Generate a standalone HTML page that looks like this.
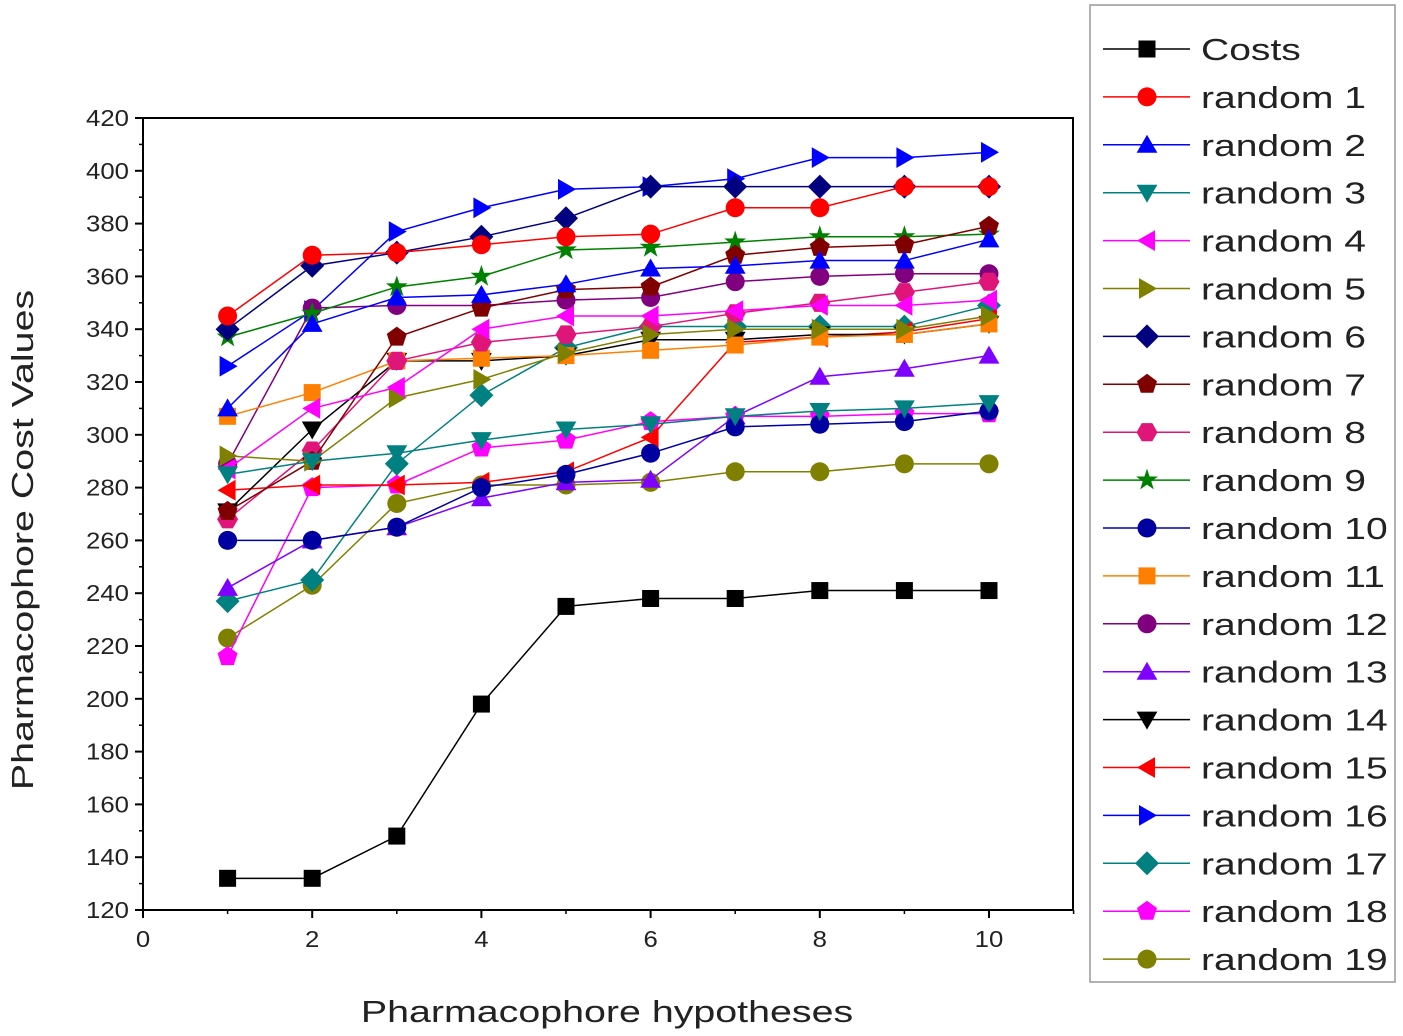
<!DOCTYPE html>
<html><head><meta charset="utf-8"><style>
body{margin:0;background:#fff;}
svg{display:block;font-family:"Liberation Sans",sans-serif;}
</style></head><body>
<svg id="chart" width="1403" height="1036"></svg>
<script>
const xValues=[1,2,3,4,5,6,7,8,9,10];
const xTicks=[0,2,4,6,8,10];
const yTicks=[120,140,160,180,200,220,240,260,280,300,320,340,360,380,400,420];
const seriesNames=["Costs","random 1","random 2","random 3","random 4","random 5","random 6","random 7","random 8","random 9","random 10","random 11","random 12","random 13","random 14","random 15","random 16","random 17","random 18","random 19"];
const costs=[132,132,148,198,235,238,238,241,241,241];
const r1=[345,368,369,372,375,376,386,386,394,394];
const r2=[310,342,352,353,357,363,364,366,366,374];
const r3=[285,290,293,298,302,304,307,309,310,312];
const r4=[287,310,318,340,345,345,347,349,349,351];
const r5=[292,290,314,321,331,338,340,340,340,345];
const r6=[340,364,369,375,382,394,394,394,394,394];
const r7=[271,290,337,348,355,356,368,371,372,379];
const r8=[268,294,328,335,338,341,346,350,354,358];
const r9=[337,346,356,360,370,371,373,375,375,376];
const r10=[260,260,265,280,285,293,303,304,305,309];
const r11=[307,316,328,329,330,332,334,337,338,342];
const r12=[289,348,349,349,351,352,358,360,361,361];
const r13=[242,260,265,276,282,283,307,322,325,330];
const r14=[271,302,328,328,330,336,336,338,338,342];
const r15=[279,281,281,282,286,299,335,337,339,344];
const r16=[326,347,377,386,393,394,397,405,405,407];
const r17=[237,245,289,315,333,341,341,341,341,349];
const r18=[216,280,281,295,298,305,307,307,308,308];
const r19=[223,243,274,281,281,282,286,286,289,289];
const allSeries=[costs,r1,r2,r3,r4,r5,r6,r7,r8,r9,r10,r11,r12,r13,r14,r15,r16,r17,r18,r19];
const colors=["#000","#f00","#00f","#008080","#f0f","#808000","#000080","#800000","#e0157a","#008000","#0000a0","#ff8000","#800080","#8000ff","#000","#f00","#00f","#008080","#f0f","#808000"];
const shapes=["square","circle","up","down","left","right","diamond","pentagon","hexagon","star","ball","square","circle","up","down","left","right","diamond","pentagon","octagon"];
const NS="http://www.w3.org/2000/svg";
const svg=document.getElementById('chart');
const X0=143,X1=1073,Y0=118,Y1=910;
const xs=v=>X0+(v-0)*(989-143)/10;
const ys=v=>Y1-(v-120)*(Y1-Y0)/300;
function el(t,a,p){const e=document.createElementNS(NS,t);for(const k in a)e.setAttribute(k,a[k]);(p||svg).appendChild(e);return e;}
function poly(n,r,rot,cx,cy){let p=[];for(let i=0;i<n;i++){const a=rot+i*2*Math.PI/n;p.push((cx+r*Math.cos(a)).toFixed(1)+","+(cy+r*Math.sin(a)).toFixed(1));}return p.join(" ");}
function marker(g,s,cx,cy,c){
 if(s==="square")return el('rect',{x:cx-8.5,y:cy-8.5,width:17,height:17,fill:c},g);
 if(s==="circle"||s==="ball"||s==="octagon")return el('circle',{cx,cy,r:9.5,fill:c},g);
 if(s==="up")return el('polygon',{points:poly(3,12,-Math.PI/2,cx,cy+2),fill:c},g);
 if(s==="down")return el('polygon',{points:poly(3,12,Math.PI/2,cx,cy-2),fill:c},g);
 if(s==="left")return el('polygon',{points:poly(3,12,Math.PI,cx+2,cy),fill:c},g);
 if(s==="right")return el('polygon',{points:poly(3,12,0,cx-2,cy),fill:c},g);
 if(s==="diamond")return el('polygon',{points:poly(4,12,0,cx,cy),fill:c},g);
 if(s==="pentagon")return el('polygon',{points:poly(5,10.5,-Math.PI/2,cx,cy),fill:c},g);
 if(s==="hexagon")return el('polygon',{points:poly(6,10.5,0,cx,cy),fill:c},g);
 if(s==="star"){let p=[];for(let i=0;i<10;i++){const a=-Math.PI/2+i*Math.PI/5;const rr=i%2?4.5:11.5;p.push((cx+rr*Math.cos(a)).toFixed(1)+","+(cy+rr*Math.sin(a)).toFixed(1));}return el('polygon',{points:p.join(" "),fill:c},g);}
}
const frame=el('rect',{x:X0,y:Y0,width:X1-X0,height:Y1-Y0,fill:'none',stroke:'#000','stroke-width':2});

yTicks.forEach(v=>{const y=ys(v);
 el('line',{x1:X0-8,x2:X0,y1:y,y2:y,stroke:'#000','stroke-width':2});
 if(v<420){el('line',{x1:X0-4,x2:X0,y1:ys(v+10),y2:ys(v+10),stroke:'#000','stroke-width':1.5});}
 const t=el('text',{'text-anchor':'end','font-size':23,fill:'#222',transform:`translate(${X0-14},${y+8}) scale(1.12,1)`});t.textContent=v;
 });
xTicks.forEach(v=>{const x=xs(v);
 el('line',{x1:x,x2:x,y1:Y1,y2:Y1+8,stroke:'#000','stroke-width':2});
 el('line',{x1:xs(v+1),x2:xs(v+1),y1:Y1,y2:Y1+4,stroke:'#000','stroke-width':1.5});
 const t=el('text',{'text-anchor':'middle','font-size':23,fill:'#222',transform:`translate(${x},${Y1+37}) scale(1.12,1)`});t.textContent=v;
 });
const xt=el('text',{'text-anchor':'middle','font-size':31,fill:'#222',transform:'translate(607,1022) scale(1.27,1)'});xt.textContent="Pharmacophore hypotheses";

const yt=el('text',{'text-anchor':'middle','font-size':31,fill:'#222',transform:'translate(33,540) rotate(-90) scale(1.27,1)'});yt.textContent="Pharmacophore Cost Values";

for(let si=allSeries.length-1;si>=0;si--){
 const g=el('g',{});
 
 
 const d=allSeries[si];
 el('polyline',{points:d.map((v,i)=>xs(xValues[i])+","+ys(v)).join(" "),fill:'none',stroke:colors[si],'stroke-width':1.5},g);
 d.forEach((v,i)=>{const m=marker(g,shapes[si],xs(xValues[i]),ys(v),colors[si]);
  });
}
const lg=el('g',{});
el('rect',{x:1090,y:5,width:305,height:977,fill:'#fff',stroke:'#999','stroke-width':1.5},lg);
seriesNames.forEach((n,i)=>{const y=49+i*47.9;
 const e=el('g',{},lg);
 el('line',{x1:1103,x2:1190,y1:y,y2:y,stroke:colors[i],'stroke-width':1.5},e);
 marker(e,shapes[i],1147,y,colors[i]);
 const t=el('text',{'font-size':31,fill:'#222',transform:`translate(1201,${y+11}) scale(1.26,1)`},e);t.textContent=n;});
</script>
</body></html>
